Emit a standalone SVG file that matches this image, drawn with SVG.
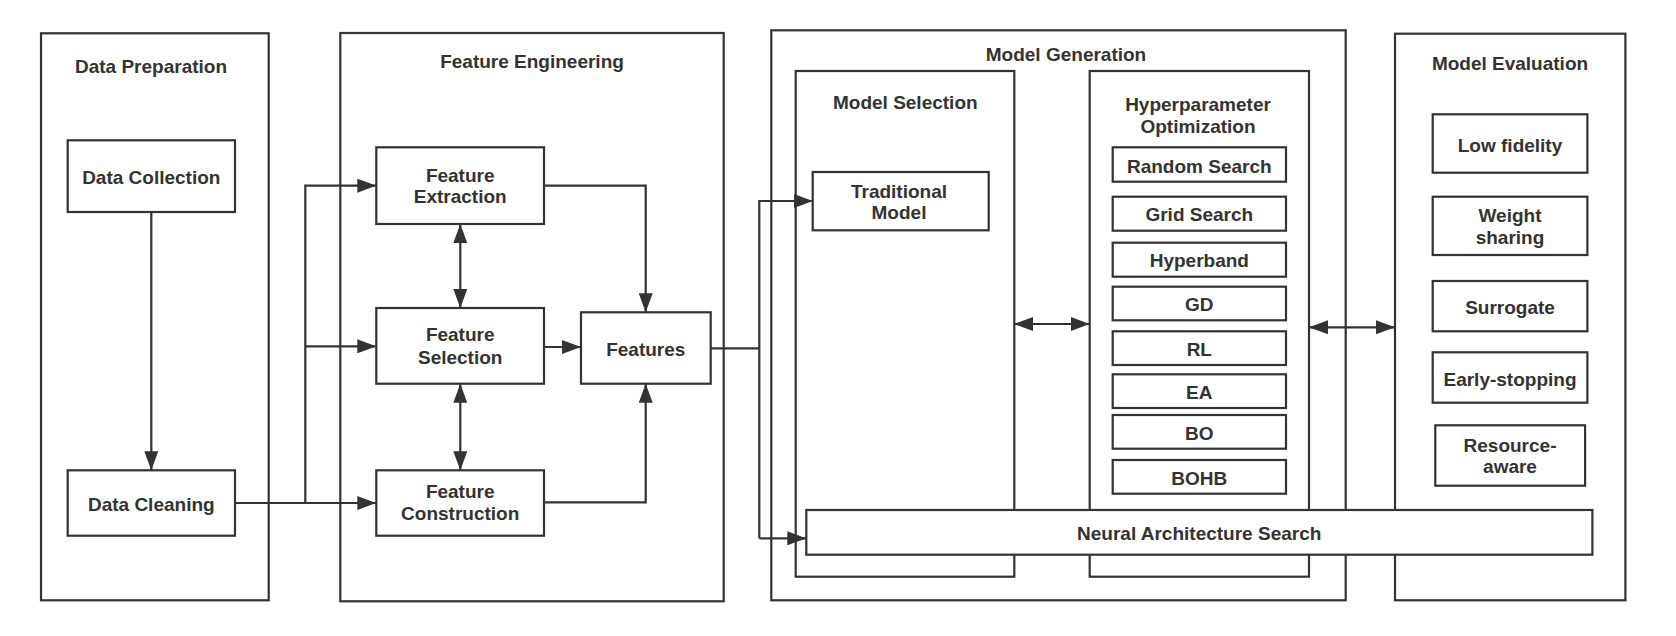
<svg xmlns="http://www.w3.org/2000/svg" width="1676" height="636" viewBox="0 0 1676 636">
<defs>
<marker id="arr" markerUnits="userSpaceOnUse" markerWidth="19" markerHeight="14" refX="19" refY="7" orient="auto-start-reverse">
<path d="M0,0 L19,7 L0,14 z" fill="#333"/>
</marker>
<style>
rect{fill:#fff;stroke:#333;stroke-width:2.2}
text{font-family:"Liberation Sans",Arial,sans-serif;font-weight:bold;font-size:19px;fill:#333;text-anchor:middle}
.c path{fill:none;stroke:#333;stroke-width:2.2}
</style>
</defs>
<rect width="1676" height="636" style="fill:#fff;stroke:none"/>

<g id="data-preparation">
<rect x="41" y="33.3" width="227.7" height="567"/>
<text x="151" y="72.7">Data Preparation</text>
</g>
<g id="data-collection">
<rect x="67.7" y="140.3" width="167.3" height="71.7"/>
<text x="151.3" y="184">Data Collection</text>
</g>
<g id="data-cleaning">
<rect x="67.7" y="470.3" width="167.3" height="65.4"/>
<text x="151.3" y="511.3">Data Cleaning</text>
</g>

<g id="feature-engineering">
<rect x="340.3" y="33" width="383.4" height="568.3"/>
<text x="532" y="68.3">Feature Engineering</text>
</g>
<g id="feature-extraction">
<rect x="376.3" y="147.3" width="167.7" height="76.7"/>
<text x="460.2" y="181.7">Feature</text>
<text x="460.2" y="203.3">Extraction</text>
</g>
<g id="feature-selection">
<rect x="376.3" y="308" width="167.7" height="75.7"/>
<text x="460.2" y="341.3">Feature</text>
<text x="460.2" y="363.7">Selection</text>
</g>
<g id="feature-construction">
<rect x="376.3" y="470.3" width="167.7" height="65.4"/>
<text x="460.2" y="498">Feature</text>
<text x="460.2" y="520.3">Construction</text>
</g>
<g id="features">
<rect x="581" y="312.3" width="129.7" height="71.4"/>
<text x="645.8" y="355.7">Features</text>
</g>

<g id="model-generation">
<rect x="771.3" y="30.3" width="574.4" height="570"/>
<text x="1066" y="61">Model Generation</text>
</g>
<g id="model-selection">
<rect x="795.7" y="71" width="218.6" height="505.7"/>
<text x="905.3" y="109">Model Selection</text>
</g>
<g id="traditional-model">
<rect x="812.7" y="172" width="176" height="58.3"/>
<text x="899" y="198">Traditional</text>
<text x="899" y="219.3">Model</text>
</g>
<g id="hyperparameter-optimization">
<rect x="1089.7" y="71" width="219.3" height="505.7"/>
<text x="1198" y="111">Hyperparameter</text>
<text x="1198" y="132.7">Optimization</text>
</g>
<g id="random-search"><rect x="1112.7" y="147.3" width="173.3" height="34.4"/><text x="1199.3" y="172.7">Random Search</text></g>
<g id="grid-search"><rect x="1112.7" y="196.7" width="173.3" height="34"/><text x="1199.3" y="221">Grid Search</text></g>
<g id="hyperband"><rect x="1112.7" y="242.7" width="173.3" height="34"/><text x="1199.3" y="267.3">Hyperband</text></g>
<g id="gd"><rect x="1112.7" y="286.7" width="173.3" height="33.6"/><text x="1199.3" y="311">GD</text></g>
<g id="rl"><rect x="1112.7" y="331.3" width="173.3" height="33.7"/><text x="1199.3" y="355.7">RL</text></g>
<g id="ea"><rect x="1112.7" y="374.3" width="173.3" height="33.7"/><text x="1199.3" y="398.7">EA</text></g>
<g id="bo"><rect x="1112.7" y="415" width="173.3" height="33.7"/><text x="1199.3" y="439.7">BO</text></g>
<g id="bohb"><rect x="1112.7" y="460" width="173.3" height="33.7"/><text x="1199.3" y="484.7">BOHB</text></g>

<g id="model-evaluation">
<rect x="1395" y="33.7" width="230.4" height="566.6"/>
<text x="1510" y="70">Model Evaluation</text>
</g>
<g id="low-fidelity"><rect x="1432.7" y="114.3" width="154.7" height="58.4"/><text x="1510" y="151.7">Low fidelity</text></g>
<g id="weight-sharing"><rect x="1432.7" y="196.7" width="154.7" height="58.3"/><text x="1510" y="222">Weight</text><text x="1510" y="244.3">sharing</text></g>
<g id="surrogate"><rect x="1432.7" y="281" width="154.7" height="50.3"/><text x="1510" y="314">Surrogate</text></g>
<g id="early-stopping"><rect x="1432.7" y="352.3" width="154.7" height="50.4"/><text x="1510" y="386.3">Early-stopping</text></g>
<g id="resource-aware"><rect x="1435.3" y="425.3" width="149.8" height="60.4"/><text x="1510" y="452">Resource-</text><text x="1510" y="473.3">aware</text></g>

<g id="neural-architecture-search">
<rect x="806.3" y="510" width="786.1" height="44.7"/>
<text x="1199.2" y="540.3">Neural Architecture Search</text>
</g>

<g id="connectors" class="c">
<path d="M151.3,212 V470.3" marker-end="url(#arr)"/>
<path d="M235,503 H376.3" marker-end="url(#arr)"/>
<path d="M305.3,503 V185.7 H376.3" marker-end="url(#arr)"/>
<path d="M305.3,346.3 H376.3" marker-end="url(#arr)"/>
<path d="M460.3,224 V308" marker-start="url(#arr)" marker-end="url(#arr)"/>
<path d="M460.3,383.7 V470.3" marker-start="url(#arr)" marker-end="url(#arr)"/>
<path d="M544,185.7 H645.7 V312.3" marker-end="url(#arr)"/>
<path d="M544,347 H581" marker-end="url(#arr)"/>
<path d="M544,502.3 H645.7 V383.7" marker-end="url(#arr)"/>
<path d="M710.7,348.3 H759.3"/>
<path d="M759.3,538.3 V201 H812.7" marker-end="url(#arr)"/>
<path d="M759.3,538.3 H806.3" marker-end="url(#arr)"/>
<path d="M1014.3,324 H1089.7" marker-start="url(#arr)" marker-end="url(#arr)"/>
<path d="M1309,327.3 H1395" marker-start="url(#arr)" marker-end="url(#arr)"/>
</g>
</svg>
